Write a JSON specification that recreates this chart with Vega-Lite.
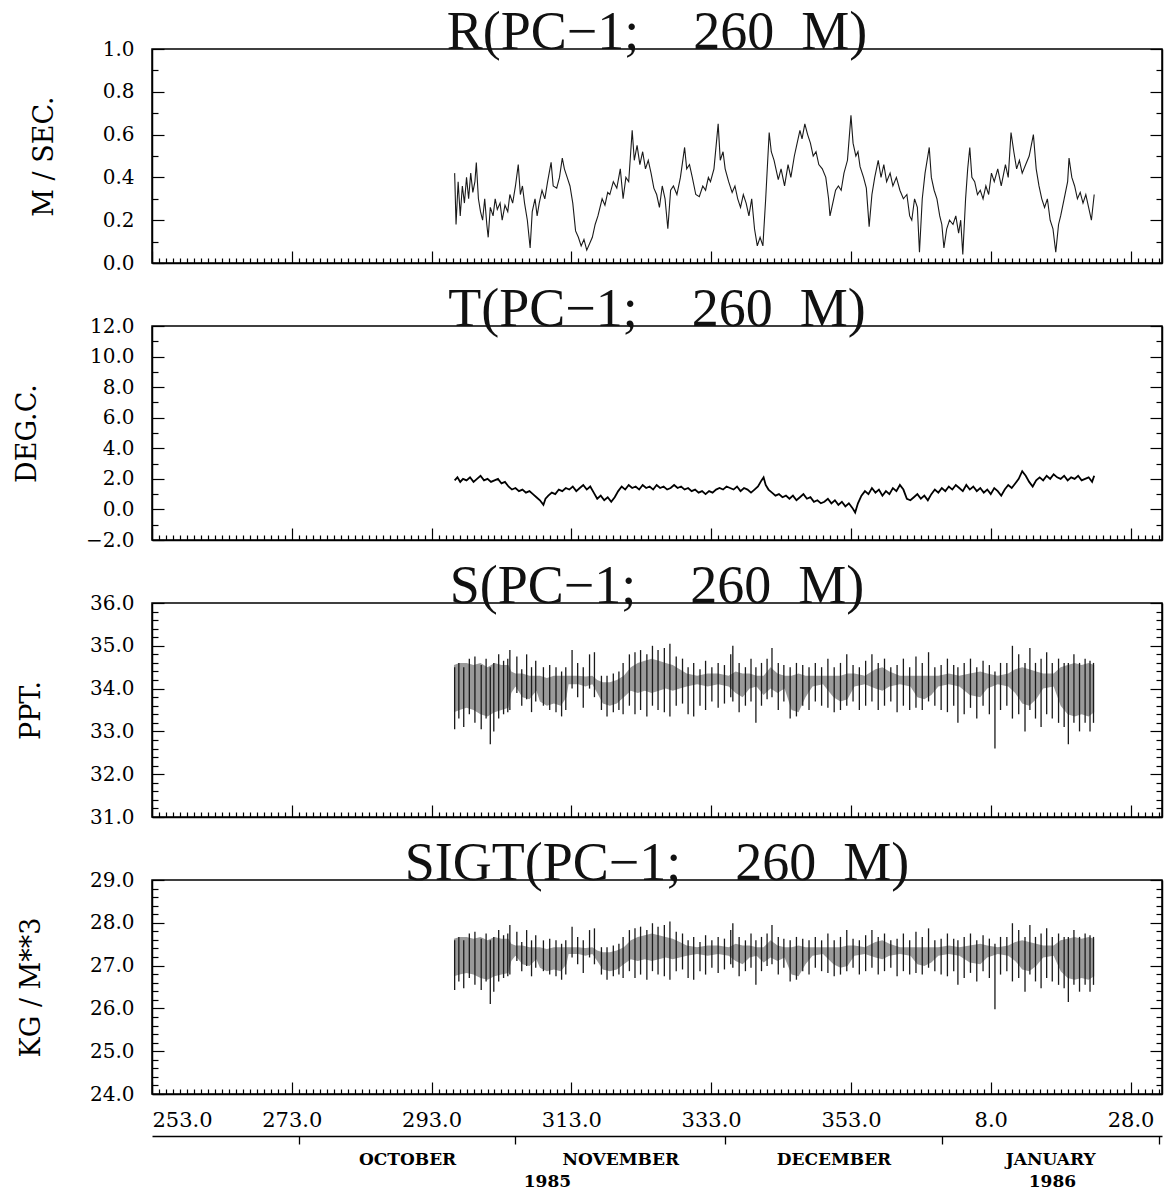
{
"$schema": "https://vega.github.io/schema/vega-lite/v6.json",
"background": "white",
"padding": {"left": 12, "top": 5, "right": 0, "bottom": 0},
"spacing": 8,
"config": {
  "view": {"stroke": "black", "strokeWidth": 1.5},
  "axis": {"grid": false, "domainColor": "black", "domainWidth": 1.5, "tickColor": "black", "tickWidth": 1.2, "labelColor": "black", "titleColor": "black", "labelFont": "DejaVu Serif", "titleFont": "DejaVu Serif", "titleFontWeight": "normal", "labelOverlap": false},
  "title": {"font": "Liberation Serif", "fontSize": 54, "fontWeight": "normal", "anchor": "middle", "frame": "group", "baseline": "alphabetic", "offset": -21, "color": "#111"}
},
"datasets": {
  "r": [
{"d":296.3,"v":0.42},{"d":296.5,"v":0.18},{"d":296.8,"v":0.38},{"d":297.1,"v":0.22},{"d":297.4,"v":0.36},{"d":297.7,"v":0.28},{"d":298.0,"v":0.40},{"d":298.3,"v":0.30},{"d":298.6,"v":0.42},{"d":298.9,"v":0.33},{"d":299.2,"v":0.38},{"d":299.4,"v":0.47},{"d":299.7,"v":0.30},{"d":300.0,"v":0.24},{"d":300.3,"v":0.20},{"d":300.6,"v":0.30},{"d":300.9,"v":0.18},{"d":301.1,"v":0.12},{"d":301.4,"v":0.26},{"d":301.8,"v":0.22},{"d":302.1,"v":0.30},{"d":302.4,"v":0.25},{"d":302.8,"v":0.28},{"d":303.1,"v":0.20},{"d":303.5,"v":0.27},{"d":303.9,"v":0.24},{"d":304.2,"v":0.32},{"d":304.6,"v":0.28},{"d":305.0,"v":0.36},{"d":305.4,"v":0.46},{"d":305.7,"v":0.32},{"d":306.0,"v":0.36},{"d":306.3,"v":0.28},{"d":306.7,"v":0.20},{"d":307.1,"v":0.07},{"d":307.4,"v":0.24},{"d":307.8,"v":0.30},{"d":308.1,"v":0.22},{"d":308.4,"v":0.28},{"d":308.8,"v":0.34},{"d":309.2,"v":0.30},{"d":309.6,"v":0.38},{"d":310.1,"v":0.47},{"d":310.4,"v":0.36},{"d":310.9,"v":0.35},{"d":311.3,"v":0.40},{"d":311.7,"v":0.49},{"d":312.0,"v":0.44},{"d":312.4,"v":0.40},{"d":312.8,"v":0.36},{"d":313.2,"v":0.28},{"d":313.6,"v":0.15},{"d":314.0,"v":0.12},{"d":314.4,"v":0.08},{"d":314.8,"v":0.11},{"d":315.2,"v":0.06},{"d":315.6,"v":0.09},{"d":316.0,"v":0.12},{"d":316.4,"v":0.18},{"d":316.8,"v":0.22},{"d":317.4,"v":0.30},{"d":317.8,"v":0.27},{"d":318.2,"v":0.33},{"d":318.5,"v":0.32},{"d":319.0,"v":0.38},{"d":319.5,"v":0.35},{"d":320.0,"v":0.44},{"d":320.4,"v":0.30},{"d":320.8,"v":0.40},{"d":321.2,"v":0.38},{"d":321.7,"v":0.62},{"d":322.0,"v":0.48},{"d":322.4,"v":0.55},{"d":322.8,"v":0.46},{"d":323.2,"v":0.52},{"d":323.6,"v":0.44},{"d":324.0,"v":0.48},{"d":324.4,"v":0.42},{"d":324.8,"v":0.35},{"d":325.2,"v":0.32},{"d":325.6,"v":0.26},{"d":326.0,"v":0.36},{"d":326.4,"v":0.30},{"d":326.8,"v":0.16},{"d":327.2,"v":0.34},{"d":327.6,"v":0.36},{"d":328.1,"v":0.32},{"d":328.6,"v":0.40},{"d":329.2,"v":0.54},{"d":329.5,"v":0.44},{"d":329.9,"v":0.46},{"d":330.3,"v":0.40},{"d":330.8,"v":0.32},{"d":331.3,"v":0.31},{"d":331.8,"v":0.36},{"d":332.2,"v":0.34},{"d":332.6,"v":0.40},{"d":332.9,"v":0.38},{"d":333.4,"v":0.44},{"d":334.0,"v":0.65},{"d":334.3,"v":0.48},{"d":334.7,"v":0.52},{"d":335.0,"v":0.44},{"d":335.5,"v":0.38},{"d":336.0,"v":0.33},{"d":336.4,"v":0.36},{"d":336.8,"v":0.30},{"d":337.2,"v":0.26},{"d":337.6,"v":0.32},{"d":338.0,"v":0.28},{"d":338.4,"v":0.22},{"d":338.8,"v":0.30},{"d":339.2,"v":0.16},{"d":339.6,"v":0.08},{"d":340.0,"v":0.12},{"d":340.4,"v":0.08},{"d":340.8,"v":0.30},{"d":341.3,"v":0.61},{"d":341.6,"v":0.52},{"d":342.0,"v":0.48},{"d":342.6,"v":0.39},{"d":343.0,"v":0.44},{"d":343.5,"v":0.36},{"d":344.0,"v":0.46},{"d":344.4,"v":0.40},{"d":344.9,"v":0.50},{"d":345.3,"v":0.56},{"d":345.7,"v":0.62},{"d":346.0,"v":0.58},{"d":346.4,"v":0.65},{"d":346.8,"v":0.60},{"d":347.2,"v":0.56},{"d":347.6,"v":0.50},{"d":348.0,"v":0.52},{"d":348.4,"v":0.46},{"d":348.9,"v":0.44},{"d":349.4,"v":0.40},{"d":349.8,"v":0.30},{"d":350.0,"v":0.22},{"d":350.4,"v":0.28},{"d":350.8,"v":0.34},{"d":351.2,"v":0.36},{"d":351.6,"v":0.34},{"d":352.0,"v":0.42},{"d":352.5,"v":0.48},{"d":353.0,"v":0.69},{"d":353.3,"v":0.56},{"d":353.7,"v":0.50},{"d":354.0,"v":0.52},{"d":354.3,"v":0.45},{"d":354.8,"v":0.40},{"d":355.2,"v":0.35},{"d":355.6,"v":0.17},{"d":356.0,"v":0.32},{"d":356.4,"v":0.40},{"d":356.9,"v":0.48},{"d":357.3,"v":0.40},{"d":357.7,"v":0.46},{"d":358.1,"v":0.38},{"d":358.6,"v":0.42},{"d":359.0,"v":0.36},{"d":359.5,"v":0.40},{"d":360.0,"v":0.34},{"d":360.5,"v":0.30},{"d":361.0,"v":0.32},{"d":361.4,"v":0.22},{"d":361.7,"v":0.20},{"d":362.1,"v":0.30},{"d":362.5,"v":0.26},{"d":362.8,"v":0.05},{"d":363.2,"v":0.30},{"d":363.6,"v":0.42},{"d":364.2,"v":0.54},{"d":364.5,"v":0.40},{"d":364.9,"v":0.34},{"d":365.3,"v":0.30},{"d":365.7,"v":0.22},{"d":366.0,"v":0.18},{"d":366.3,"v":0.07},{"d":366.7,"v":0.16},{"d":367.1,"v":0.20},{"d":367.6,"v":0.18},{"d":368.0,"v":0.22},{"d":368.4,"v":0.14},{"d":368.7,"v":0.20},{"d":369.0,"v":0.04},{"d":369.4,"v":0.30},{"d":369.7,"v":0.44},{"d":370.0,"v":0.54},{"d":370.3,"v":0.40},{"d":370.7,"v":0.38},{"d":371.1,"v":0.32},{"d":371.5,"v":0.34},{"d":371.9,"v":0.30},{"d":372.3,"v":0.36},{"d":372.7,"v":0.32},{"d":373.1,"v":0.42},{"d":373.5,"v":0.38},{"d":374.0,"v":0.44},{"d":374.5,"v":0.36},{"d":375.1,"v":0.46},{"d":375.5,"v":0.40},{"d":375.9,"v":0.61},{"d":376.3,"v":0.52},{"d":376.7,"v":0.44},{"d":377.1,"v":0.48},{"d":377.5,"v":0.42},{"d":378.0,"v":0.46},{"d":378.5,"v":0.50},{"d":379.1,"v":0.60},{"d":379.5,"v":0.44},{"d":379.9,"v":0.36},{"d":380.3,"v":0.30},{"d":380.7,"v":0.26},{"d":381.1,"v":0.30},{"d":381.5,"v":0.20},{"d":381.9,"v":0.16},{"d":382.3,"v":0.05},{"d":382.7,"v":0.18},{"d":383.0,"v":0.22},{"d":383.5,"v":0.30},{"d":384.0,"v":0.38},{"d":384.2,"v":0.49},{"d":384.6,"v":0.40},{"d":385.0,"v":0.36},{"d":385.4,"v":0.30},{"d":385.8,"v":0.33},{"d":386.2,"v":0.28},{"d":386.6,"v":0.32},{"d":387.0,"v":0.26},{"d":387.4,"v":0.20},{"d":387.8,"v":0.32}
  ],
  "t": [
{"d":296.3,"v":1.9},{"d":296.7,"v":2.1},{"d":297.1,"v":1.8},{"d":297.5,"v":2.0},{"d":298.0,"v":1.9},{"d":298.5,"v":2.1},{"d":299.0,"v":1.8},{"d":299.5,"v":2.0},{"d":300.0,"v":2.2},{"d":300.5,"v":1.9},{"d":301.0,"v":2.0},{"d":301.5,"v":1.8},{"d":302.0,"v":1.9},{"d":302.5,"v":2.0},{"d":303.0,"v":1.7},{"d":303.5,"v":1.8},{"d":304.0,"v":1.5},{"d":304.5,"v":1.3},{"d":305.0,"v":1.4},{"d":305.5,"v":1.2},{"d":306.0,"v":1.3},{"d":306.5,"v":1.1},{"d":307.0,"v":1.2},{"d":307.5,"v":1.0},{"d":308.0,"v":0.8},{"d":308.5,"v":0.6},{"d":309.0,"v":0.3},{"d":309.3,"v":0.7},{"d":309.7,"v":0.9},{"d":310.2,"v":1.1},{"d":310.7,"v":1.0},{"d":311.2,"v":1.3},{"d":311.7,"v":1.2},{"d":312.2,"v":1.4},{"d":312.7,"v":1.3},{"d":313.2,"v":1.5},{"d":313.7,"v":1.2},{"d":314.2,"v":1.4},{"d":314.7,"v":1.6},{"d":315.2,"v":1.3},{"d":315.7,"v":1.5},{"d":316.2,"v":1.1},{"d":316.7,"v":0.7},{"d":317.2,"v":0.9},{"d":317.7,"v":0.6},{"d":318.2,"v":0.8},{"d":318.7,"v":0.5},{"d":319.2,"v":0.8},{"d":319.7,"v":1.2},{"d":320.2,"v":1.5},{"d":320.7,"v":1.3},{"d":321.2,"v":1.6},{"d":321.7,"v":1.4},{"d":322.2,"v":1.5},{"d":322.7,"v":1.3},{"d":323.2,"v":1.6},{"d":323.7,"v":1.4},{"d":324.2,"v":1.5},{"d":324.7,"v":1.3},{"d":325.2,"v":1.6},{"d":325.7,"v":1.4},{"d":326.2,"v":1.5},{"d":326.7,"v":1.3},{"d":327.2,"v":1.4},{"d":327.7,"v":1.6},{"d":328.2,"v":1.4},{"d":328.7,"v":1.5},{"d":329.2,"v":1.3},{"d":329.7,"v":1.4},{"d":330.2,"v":1.2},{"d":330.7,"v":1.3},{"d":331.2,"v":1.1},{"d":331.7,"v":1.2},{"d":332.2,"v":1.0},{"d":332.7,"v":1.2},{"d":333.2,"v":1.1},{"d":333.7,"v":1.3},{"d":334.2,"v":1.4},{"d":334.7,"v":1.3},{"d":335.2,"v":1.5},{"d":335.7,"v":1.4},{"d":336.2,"v":1.3},{"d":336.7,"v":1.5},{"d":337.2,"v":1.2},{"d":337.7,"v":1.4},{"d":338.2,"v":1.3},{"d":338.7,"v":1.1},{"d":339.2,"v":1.3},{"d":339.7,"v":1.5},{"d":340.2,"v":1.9},{"d":340.5,"v":2.1},{"d":340.8,"v":1.6},{"d":341.2,"v":1.3},{"d":341.7,"v":1.1},{"d":342.2,"v":0.9},{"d":342.7,"v":1.0},{"d":343.2,"v":0.8},{"d":343.7,"v":0.9},{"d":344.2,"v":0.7},{"d":344.7,"v":0.9},{"d":345.2,"v":0.6},{"d":345.7,"v":0.8},{"d":346.2,"v":1.0},{"d":346.7,"v":0.7},{"d":347.2,"v":0.8},{"d":347.7,"v":0.5},{"d":348.2,"v":0.6},{"d":348.7,"v":0.4},{"d":349.2,"v":0.5},{"d":349.7,"v":0.7},{"d":350.2,"v":0.4},{"d":350.7,"v":0.6},{"d":351.2,"v":0.3},{"d":351.7,"v":0.5},{"d":352.2,"v":0.2},{"d":352.7,"v":0.4},{"d":353.2,"v":0.1},{"d":353.6,"v":-0.2},{"d":354.0,"v":0.4},{"d":354.5,"v":0.9},{"d":355.0,"v":1.2},{"d":355.5,"v":1.0},{"d":356.0,"v":1.4},{"d":356.5,"v":1.1},{"d":357.0,"v":1.3},{"d":357.5,"v":0.9},{"d":358.0,"v":1.2},{"d":358.5,"v":1.0},{"d":359.0,"v":1.4},{"d":359.5,"v":1.2},{"d":360.0,"v":1.6},{"d":360.5,"v":1.3},{"d":361.0,"v":0.7},{"d":361.5,"v":0.6},{"d":362.0,"v":0.8},{"d":362.5,"v":1.0},{"d":363.0,"v":0.7},{"d":363.5,"v":0.9},{"d":364.0,"v":0.6},{"d":364.5,"v":1.0},{"d":365.0,"v":1.3},{"d":365.5,"v":1.1},{"d":366.0,"v":1.4},{"d":366.5,"v":1.2},{"d":367.0,"v":1.5},{"d":367.5,"v":1.3},{"d":368.0,"v":1.6},{"d":368.5,"v":1.4},{"d":369.0,"v":1.2},{"d":369.5,"v":1.6},{"d":370.0,"v":1.3},{"d":370.5,"v":1.5},{"d":371.0,"v":1.2},{"d":371.5,"v":1.4},{"d":372.0,"v":1.1},{"d":372.5,"v":1.3},{"d":373.0,"v":1.0},{"d":373.5,"v":1.4},{"d":374.0,"v":1.2},{"d":374.5,"v":0.9},{"d":375.0,"v":1.3},{"d":375.5,"v":1.6},{"d":376.0,"v":1.4},{"d":376.5,"v":1.7},{"d":377.0,"v":2.0},{"d":377.5,"v":2.5},{"d":378.0,"v":2.2},{"d":378.5,"v":1.8},{"d":379.0,"v":1.5},{"d":379.5,"v":1.9},{"d":380.0,"v":2.1},{"d":380.5,"v":1.9},{"d":381.0,"v":2.2},{"d":381.5,"v":2.0},{"d":382.0,"v":2.3},{"d":382.5,"v":2.1},{"d":383.0,"v":2.0},{"d":383.5,"v":2.2},{"d":384.0,"v":1.9},{"d":384.5,"v":2.1},{"d":385.0,"v":2.0},{"d":385.5,"v":2.2},{"d":386.0,"v":1.9},{"d":386.5,"v":2.0},{"d":387.0,"v":2.1},{"d":387.5,"v":1.8},{"d":387.8,"v":2.2}
  ],
  "sb": [
{"d":296.2,"lo":33.45,"hi":34.55},{"d":297,"lo":33.5,"hi":34.6},{"d":298,"lo":33.55,"hi":34.6},{"d":299,"lo":33.5,"hi":34.55},{"d":300,"lo":33.4,"hi":34.6},{"d":301,"lo":33.35,"hi":34.5},{"d":302,"lo":33.45,"hi":34.6},{"d":303,"lo":33.5,"hi":34.55},{"d":304,"lo":33.55,"hi":34.55},{"d":304.4,"lo":33.9,"hi":34.4},{"d":305,"lo":34.05,"hi":34.35},{"d":306,"lo":33.8,"hi":34.35},{"d":307,"lo":33.75,"hi":34.3},{"d":308,"lo":33.95,"hi":34.3},{"d":308.5,"lo":33.7,"hi":34.3},{"d":309.5,"lo":33.6,"hi":34.25},{"d":310.5,"lo":33.65,"hi":34.3},{"d":311.5,"lo":33.6,"hi":34.3},{"d":312.3,"lo":33.8,"hi":34.3},{"d":312.6,"lo":34.1,"hi":34.3},{"d":314,"lo":34.1,"hi":34.3},{"d":315,"lo":34.05,"hi":34.28},{"d":316,"lo":34.1,"hi":34.3},{"d":316.7,"lo":33.9,"hi":34.2},{"d":317.5,"lo":33.65,"hi":34.15},{"d":318.5,"lo":33.6,"hi":34.15},{"d":319.5,"lo":33.65,"hi":34.2},{"d":320.5,"lo":33.8,"hi":34.3},{"d":321.5,"lo":33.95,"hi":34.5},{"d":322.5,"lo":33.9,"hi":34.6},{"d":323.5,"lo":33.95,"hi":34.65},{"d":324.5,"lo":33.9,"hi":34.7},{"d":325.5,"lo":33.95,"hi":34.65},{"d":326.5,"lo":34.0,"hi":34.6},{"d":327.5,"lo":33.95,"hi":34.55},{"d":328.5,"lo":34.0,"hi":34.45},{"d":329.5,"lo":34.05,"hi":34.35},{"d":331,"lo":34.1,"hi":34.3},{"d":332.5,"lo":34.05,"hi":34.35},{"d":334,"lo":34.1,"hi":34.35},{"d":335.5,"lo":34.05,"hi":34.3},{"d":336.5,"lo":33.9,"hi":34.4},{"d":337.5,"lo":33.8,"hi":34.35},{"d":338.5,"lo":34.0,"hi":34.35},{"d":339.5,"lo":34.05,"hi":34.3},{"d":340.5,"lo":33.85,"hi":34.3},{"d":341.5,"lo":34.0,"hi":34.5},{"d":342.5,"lo":33.9,"hi":34.35},{"d":343.5,"lo":34.0,"hi":34.3},{"d":344.5,"lo":33.5,"hi":34.3},{"d":345.5,"lo":33.45,"hi":34.35},{"d":346.5,"lo":33.8,"hi":34.3},{"d":347.5,"lo":34.05,"hi":34.3},{"d":349,"lo":34.1,"hi":34.3},{"d":350.5,"lo":33.8,"hi":34.3},{"d":351.5,"lo":33.7,"hi":34.3},{"d":352.5,"lo":33.75,"hi":34.35},{"d":353.5,"lo":34.05,"hi":34.35},{"d":355,"lo":34.1,"hi":34.3},{"d":356.5,"lo":34.0,"hi":34.45},{"d":357.5,"lo":33.95,"hi":34.5},{"d":358.5,"lo":34.05,"hi":34.4},{"d":360,"lo":34.1,"hi":34.3},{"d":361.5,"lo":34.05,"hi":34.3},{"d":362.5,"lo":33.8,"hi":34.3},{"d":363.5,"lo":33.75,"hi":34.3},{"d":364.5,"lo":33.85,"hi":34.3},{"d":365.5,"lo":34.05,"hi":34.3},{"d":367,"lo":34.1,"hi":34.35},{"d":368.5,"lo":34.05,"hi":34.3},{"d":370,"lo":33.85,"hi":34.35},{"d":371.5,"lo":33.8,"hi":34.4},{"d":372.5,"lo":34.0,"hi":34.35},{"d":374,"lo":34.1,"hi":34.3},{"d":375.5,"lo":34.05,"hi":34.35},{"d":376.5,"lo":33.9,"hi":34.45},{"d":377.5,"lo":33.65,"hi":34.5},{"d":378.5,"lo":33.6,"hi":34.45},{"d":379.5,"lo":33.75,"hi":34.4},{"d":380.5,"lo":34.0,"hi":34.35},{"d":382,"lo":34.05,"hi":34.35},{"d":383,"lo":33.6,"hi":34.5},{"d":384,"lo":33.4,"hi":34.55},{"d":385,"lo":33.35,"hi":34.6},{"d":386,"lo":33.4,"hi":34.55},{"d":387,"lo":33.35,"hi":34.6},{"d":387.8,"lo":33.45,"hi":34.55}
  ],
  "ss": [
{"d":296.3,"lo":33.05,"hi":34.5},{"d":296.9,"lo":33.3,"hi":34.6},{"d":297.6,"lo":33.1,"hi":34.5},{"d":298.4,"lo":33.4,"hi":34.7},{"d":299.2,"lo":33.2,"hi":34.75},{"d":300.1,"lo":33.05,"hi":34.55},{"d":300.8,"lo":33.3,"hi":34.7},{"d":301.4,"lo":32.7,"hi":34.5},{"d":301.9,"lo":33.0,"hi":34.6},{"d":302.6,"lo":33.3,"hi":34.8},{"d":303.3,"lo":33.4,"hi":34.65},{"d":303.9,"lo":33.45,"hi":34.7},{"d":304.2,"lo":33.5,"hi":34.9},{"d":305.2,"lo":33.9,"hi":34.75},{"d":305.9,"lo":33.6,"hi":34.45},{"d":306.6,"lo":33.75,"hi":34.8},{"d":307.3,"lo":33.45,"hi":34.5},{"d":307.9,"lo":33.7,"hi":34.65},{"d":309.0,"lo":33.6,"hi":34.5},{"d":309.9,"lo":33.5,"hi":34.55},{"d":310.8,"lo":33.45,"hi":34.5},{"d":311.6,"lo":33.35,"hi":34.4},{"d":312.2,"lo":33.5,"hi":34.5},{"d":313.1,"lo":34.0,"hi":34.9},{"d":313.9,"lo":33.8,"hi":34.6},{"d":314.7,"lo":33.55,"hi":34.5},{"d":315.6,"lo":34.0,"hi":34.8},{"d":316.3,"lo":33.8,"hi":34.85},{"d":317.3,"lo":33.5,"hi":34.3},{"d":318.1,"lo":33.35,"hi":34.3},{"d":319.0,"lo":33.45,"hi":34.35},{"d":319.8,"lo":33.5,"hi":34.4},{"d":320.4,"lo":33.4,"hi":34.6},{"d":321.3,"lo":33.6,"hi":34.8},{"d":322.1,"lo":33.4,"hi":34.85},{"d":322.9,"lo":33.5,"hi":34.9},{"d":323.8,"lo":33.35,"hi":34.8},{"d":324.6,"lo":33.6,"hi":35.0},{"d":325.4,"lo":33.5,"hi":34.9},{"d":326.3,"lo":33.45,"hi":34.95},{"d":327.1,"lo":33.35,"hi":35.05},{"d":328.0,"lo":33.6,"hi":34.75},{"d":328.9,"lo":33.65,"hi":34.7},{"d":329.7,"lo":33.4,"hi":34.5},{"d":330.5,"lo":33.35,"hi":34.6},{"d":331.4,"lo":33.6,"hi":34.45},{"d":332.2,"lo":33.5,"hi":34.65},{"d":333.1,"lo":33.7,"hi":34.5},{"d":334.0,"lo":33.55,"hi":34.6},{"d":334.9,"lo":33.65,"hi":34.55},{"d":335.8,"lo":33.8,"hi":34.8},{"d":336.1,"lo":33.7,"hi":35.0},{"d":337.0,"lo":33.45,"hi":34.6},{"d":337.9,"lo":33.6,"hi":34.5},{"d":338.7,"lo":33.7,"hi":34.7},{"d":339.4,"lo":33.2,"hi":34.5},{"d":340.2,"lo":33.6,"hi":34.6},{"d":341.0,"lo":33.75,"hi":34.7},{"d":341.7,"lo":33.8,"hi":34.95},{"d":342.6,"lo":33.5,"hi":34.6},{"d":343.4,"lo":33.7,"hi":34.55},{"d":344.3,"lo":33.3,"hi":34.5},{"d":345.2,"lo":33.35,"hi":34.6},{"d":346.1,"lo":33.6,"hi":34.55},{"d":347.0,"lo":33.5,"hi":34.5},{"d":347.9,"lo":33.7,"hi":34.6},{"d":348.8,"lo":33.6,"hi":34.5},{"d":349.7,"lo":33.55,"hi":34.7},{"d":350.6,"lo":33.45,"hi":34.5},{"d":351.5,"lo":33.5,"hi":34.6},{"d":352.4,"lo":33.6,"hi":34.8},{"d":353.3,"lo":33.7,"hi":34.55},{"d":354.2,"lo":33.5,"hi":34.5},{"d":355.1,"lo":33.6,"hi":34.65},{"d":356.0,"lo":33.7,"hi":34.8},{"d":356.9,"lo":33.5,"hi":34.6},{"d":357.8,"lo":33.6,"hi":34.7},{"d":358.7,"lo":33.7,"hi":34.5},{"d":359.6,"lo":33.45,"hi":34.55},{"d":360.5,"lo":33.6,"hi":34.7},{"d":361.4,"lo":33.5,"hi":34.5},{"d":362.3,"lo":33.55,"hi":34.75},{"d":363.2,"lo":33.5,"hi":34.6},{"d":364.1,"lo":33.7,"hi":34.85},{"d":365.0,"lo":33.6,"hi":34.5},{"d":365.9,"lo":33.5,"hi":34.55},{"d":366.8,"lo":33.45,"hi":34.7},{"d":367.7,"lo":33.6,"hi":34.55},{"d":368.3,"lo":33.2,"hi":34.5},{"d":369.2,"lo":33.4,"hi":34.6},{"d":370.1,"lo":33.55,"hi":34.7},{"d":371.0,"lo":33.3,"hi":34.5},{"d":371.9,"lo":33.6,"hi":34.65},{"d":372.8,"lo":33.4,"hi":34.55},{"d":373.6,"lo":32.6,"hi":34.4},{"d":374.4,"lo":33.5,"hi":34.6},{"d":375.3,"lo":33.6,"hi":34.6},{"d":376.1,"lo":33.3,"hi":35.0},{"d":377.0,"lo":33.4,"hi":34.8},{"d":377.9,"lo":33.0,"hi":34.6},{"d":378.6,"lo":33.5,"hi":34.95},{"d":379.4,"lo":33.3,"hi":34.6},{"d":380.2,"lo":33.1,"hi":34.7},{"d":381.0,"lo":33.4,"hi":34.85},{"d":381.8,"lo":33.3,"hi":34.6},{"d":382.7,"lo":33.2,"hi":34.7},{"d":383.5,"lo":33.1,"hi":34.6},{"d":384.1,"lo":32.7,"hi":34.6},{"d":384.9,"lo":33.2,"hi":34.8},{"d":385.7,"lo":33.0,"hi":34.6},{"d":386.5,"lo":33.2,"hi":34.7},{"d":387.2,"lo":33.0,"hi":34.65},{"d":387.7,"lo":33.2,"hi":34.6}
  ],
  "gb": [
{"d":296.2,"lo":26.75,"hi":27.63},{"d":297,"lo":26.79,"hi":27.67},{"d":298,"lo":26.83,"hi":27.67},{"d":299,"lo":26.79,"hi":27.63},{"d":300,"lo":26.71,"hi":27.67},{"d":301,"lo":26.67,"hi":27.59},{"d":302,"lo":26.75,"hi":27.67},{"d":303,"lo":26.79,"hi":27.63},{"d":304,"lo":26.83,"hi":27.63},{"d":304.4,"lo":27.11,"hi":27.51},{"d":305,"lo":27.23,"hi":27.47},{"d":306,"lo":27.03,"hi":27.47},{"d":307,"lo":26.99,"hi":27.43},{"d":308,"lo":27.15,"hi":27.43},{"d":308.5,"lo":26.95,"hi":27.43},{"d":309.5,"lo":26.87,"hi":27.39},{"d":310.5,"lo":26.91,"hi":27.43},{"d":311.5,"lo":26.87,"hi":27.43},{"d":312.3,"lo":27.03,"hi":27.43},{"d":312.6,"lo":27.27,"hi":27.43},{"d":314,"lo":27.27,"hi":27.43},{"d":315,"lo":27.23,"hi":27.41},{"d":316,"lo":27.27,"hi":27.43},{"d":316.7,"lo":27.11,"hi":27.35},{"d":317.5,"lo":26.91,"hi":27.31},{"d":318.5,"lo":26.87,"hi":27.31},{"d":319.5,"lo":26.91,"hi":27.35},{"d":320.5,"lo":27.03,"hi":27.43},{"d":321.5,"lo":27.15,"hi":27.59},{"d":322.5,"lo":27.11,"hi":27.67},{"d":323.5,"lo":27.15,"hi":27.71},{"d":324.5,"lo":27.11,"hi":27.75},{"d":325.5,"lo":27.15,"hi":27.71},{"d":326.5,"lo":27.19,"hi":27.67},{"d":327.5,"lo":27.15,"hi":27.63},{"d":328.5,"lo":27.19,"hi":27.55},{"d":329.5,"lo":27.23,"hi":27.47},{"d":331,"lo":27.27,"hi":27.43},{"d":332.5,"lo":27.23,"hi":27.47},{"d":334,"lo":27.27,"hi":27.47},{"d":335.5,"lo":27.23,"hi":27.43},{"d":336.5,"lo":27.11,"hi":27.51},{"d":337.5,"lo":27.03,"hi":27.47},{"d":338.5,"lo":27.19,"hi":27.47},{"d":339.5,"lo":27.23,"hi":27.43},{"d":340.5,"lo":27.07,"hi":27.43},{"d":341.5,"lo":27.19,"hi":27.59},{"d":342.5,"lo":27.11,"hi":27.47},{"d":343.5,"lo":27.19,"hi":27.43},{"d":344.5,"lo":26.79,"hi":27.43},{"d":345.5,"lo":26.75,"hi":27.47},{"d":346.5,"lo":27.03,"hi":27.43},{"d":347.5,"lo":27.23,"hi":27.43},{"d":349,"lo":27.27,"hi":27.43},{"d":350.5,"lo":27.03,"hi":27.43},{"d":351.5,"lo":26.95,"hi":27.43},{"d":352.5,"lo":26.99,"hi":27.47},{"d":353.5,"lo":27.23,"hi":27.47},{"d":355,"lo":27.27,"hi":27.43},{"d":356.5,"lo":27.19,"hi":27.55},{"d":357.5,"lo":27.15,"hi":27.59},{"d":358.5,"lo":27.23,"hi":27.51},{"d":360,"lo":27.27,"hi":27.43},{"d":361.5,"lo":27.23,"hi":27.43},{"d":362.5,"lo":27.03,"hi":27.43},{"d":363.5,"lo":26.99,"hi":27.43},{"d":364.5,"lo":27.07,"hi":27.43},{"d":365.5,"lo":27.23,"hi":27.43},{"d":367,"lo":27.27,"hi":27.47},{"d":368.5,"lo":27.23,"hi":27.43},{"d":370,"lo":27.07,"hi":27.47},{"d":371.5,"lo":27.03,"hi":27.51},{"d":372.5,"lo":27.19,"hi":27.47},{"d":374,"lo":27.27,"hi":27.43},{"d":375.5,"lo":27.23,"hi":27.47},{"d":376.5,"lo":27.11,"hi":27.55},{"d":377.5,"lo":26.91,"hi":27.59},{"d":378.5,"lo":26.87,"hi":27.55},{"d":379.5,"lo":26.99,"hi":27.51},{"d":380.5,"lo":27.19,"hi":27.47},{"d":382,"lo":27.23,"hi":27.47},{"d":383,"lo":26.87,"hi":27.59},{"d":384,"lo":26.71,"hi":27.63},{"d":385,"lo":26.67,"hi":27.67},{"d":386,"lo":26.71,"hi":27.63},{"d":387,"lo":26.67,"hi":27.67},{"d":387.8,"lo":26.75,"hi":27.63}
  ],
  "gs": [
{"d":296.3,"lo":26.43,"hi":27.59},{"d":296.9,"lo":26.63,"hi":27.67},{"d":297.6,"lo":26.47,"hi":27.59},{"d":298.4,"lo":26.71,"hi":27.75},{"d":299.2,"lo":26.55,"hi":27.79},{"d":300.1,"lo":26.43,"hi":27.63},{"d":300.8,"lo":26.63,"hi":27.75},{"d":301.4,"lo":26.1,"hi":27.59},{"d":301.9,"lo":26.39,"hi":27.67},{"d":302.6,"lo":26.63,"hi":27.83},{"d":303.3,"lo":26.71,"hi":27.71},{"d":303.9,"lo":26.75,"hi":27.75},{"d":304.2,"lo":26.79,"hi":27.95},{"d":305.2,"lo":27.11,"hi":27.79},{"d":305.9,"lo":26.87,"hi":27.55},{"d":306.6,"lo":26.99,"hi":27.83},{"d":307.3,"lo":26.75,"hi":27.59},{"d":307.9,"lo":26.95,"hi":27.71},{"d":309.0,"lo":26.87,"hi":27.59},{"d":309.9,"lo":26.79,"hi":27.63},{"d":310.8,"lo":26.75,"hi":27.59},{"d":311.6,"lo":26.67,"hi":27.51},{"d":312.2,"lo":26.79,"hi":27.59},{"d":313.1,"lo":27.19,"hi":27.91},{"d":313.9,"lo":27.03,"hi":27.67},{"d":314.7,"lo":26.83,"hi":27.59},{"d":315.6,"lo":27.19,"hi":27.83},{"d":316.3,"lo":27.03,"hi":27.87},{"d":317.3,"lo":26.79,"hi":27.43},{"d":318.1,"lo":26.67,"hi":27.43},{"d":319.0,"lo":26.75,"hi":27.47},{"d":319.8,"lo":26.79,"hi":27.51},{"d":320.4,"lo":26.71,"hi":27.67},{"d":321.3,"lo":26.87,"hi":27.83},{"d":322.1,"lo":26.71,"hi":27.87},{"d":322.9,"lo":26.79,"hi":27.91},{"d":323.8,"lo":26.67,"hi":27.83},{"d":324.6,"lo":26.87,"hi":27.99},{"d":325.4,"lo":26.79,"hi":27.91},{"d":326.3,"lo":26.75,"hi":27.95},{"d":327.1,"lo":26.67,"hi":28.03},{"d":328.0,"lo":26.87,"hi":27.79},{"d":328.9,"lo":26.91,"hi":27.75},{"d":329.7,"lo":26.71,"hi":27.59},{"d":330.5,"lo":26.67,"hi":27.67},{"d":331.4,"lo":26.87,"hi":27.55},{"d":332.2,"lo":26.79,"hi":27.71},{"d":333.1,"lo":26.95,"hi":27.59},{"d":334.0,"lo":26.83,"hi":27.67},{"d":334.9,"lo":26.91,"hi":27.63},{"d":335.8,"lo":27.03,"hi":27.83},{"d":336.1,"lo":26.95,"hi":27.99},{"d":337.0,"lo":26.75,"hi":27.67},{"d":337.9,"lo":26.87,"hi":27.59},{"d":338.7,"lo":26.95,"hi":27.75},{"d":339.4,"lo":26.55,"hi":27.59},{"d":340.2,"lo":26.87,"hi":27.67},{"d":341.0,"lo":26.99,"hi":27.75},{"d":341.7,"lo":27.03,"hi":27.95},{"d":342.6,"lo":26.79,"hi":27.67},{"d":343.4,"lo":26.95,"hi":27.63},{"d":344.3,"lo":26.63,"hi":27.59},{"d":345.2,"lo":26.67,"hi":27.67},{"d":346.1,"lo":26.87,"hi":27.63},{"d":347.0,"lo":26.79,"hi":27.59},{"d":347.9,"lo":26.95,"hi":27.67},{"d":348.8,"lo":26.87,"hi":27.59},{"d":349.7,"lo":26.83,"hi":27.75},{"d":350.6,"lo":26.75,"hi":27.59},{"d":351.5,"lo":26.79,"hi":27.67},{"d":352.4,"lo":26.87,"hi":27.83},{"d":353.3,"lo":26.95,"hi":27.63},{"d":354.2,"lo":26.79,"hi":27.59},{"d":355.1,"lo":26.87,"hi":27.71},{"d":356.0,"lo":26.95,"hi":27.83},{"d":356.9,"lo":26.79,"hi":27.67},{"d":357.8,"lo":26.87,"hi":27.75},{"d":358.7,"lo":26.95,"hi":27.59},{"d":359.6,"lo":26.75,"hi":27.63},{"d":360.5,"lo":26.87,"hi":27.75},{"d":361.4,"lo":26.79,"hi":27.59},{"d":362.3,"lo":26.83,"hi":27.79},{"d":363.2,"lo":26.79,"hi":27.67},{"d":364.1,"lo":26.95,"hi":27.87},{"d":365.0,"lo":26.87,"hi":27.59},{"d":365.9,"lo":26.79,"hi":27.63},{"d":366.8,"lo":26.75,"hi":27.75},{"d":367.7,"lo":26.87,"hi":27.63},{"d":368.3,"lo":26.55,"hi":27.59},{"d":369.2,"lo":26.71,"hi":27.67},{"d":370.1,"lo":26.83,"hi":27.75},{"d":371.0,"lo":26.63,"hi":27.59},{"d":371.9,"lo":26.87,"hi":27.71},{"d":372.8,"lo":26.71,"hi":27.63},{"d":373.6,"lo":25.98,"hi":27.51},{"d":374.4,"lo":26.79,"hi":27.67},{"d":375.3,"lo":26.87,"hi":27.67},{"d":376.1,"lo":26.63,"hi":27.99},{"d":377.0,"lo":26.71,"hi":27.83},{"d":377.9,"lo":26.39,"hi":27.67},{"d":378.6,"lo":26.79,"hi":27.95},{"d":379.4,"lo":26.63,"hi":27.67},{"d":380.2,"lo":26.47,"hi":27.75},{"d":381.0,"lo":26.71,"hi":27.87},{"d":381.8,"lo":26.63,"hi":27.67},{"d":382.7,"lo":26.55,"hi":27.75},{"d":383.5,"lo":26.47,"hi":27.67},{"d":384.1,"lo":26.15,"hi":27.67},{"d":384.9,"lo":26.55,"hi":27.83},{"d":385.7,"lo":26.39,"hi":27.67},{"d":386.5,"lo":26.55,"hi":27.75},{"d":387.2,"lo":26.39,"hi":27.71},{"d":387.7,"lo":26.55,"hi":27.67}
  ],
  "m": [{"d": 274}, {"d": 397}]
},
"vconcat": [
  {
    "title": {"text": "R(PC\u22121;\u00a0\u00a0\u00a0\u00a0260\u00a0\u00a0M)"},
    "width": 1010, "height": 214,
    "data": {"name": "r"},
    "encoding": {
      "x": {"field": "d", "type": "quantitative", "scale": {"domain": [253, 397.5], "nice": false, "zero": false},
        "axis": {"title": null, "labels": false, "values": [253,254,255,256,257,258,259,260,261,262,263,264,265,266,267,268,269,270,271,272,273,274,275,276,277,278,279,280,281,282,283,284,285,286,287,288,289,290,291,292,293,294,295,296,297,298,299,300,301,302,303,304,305,306,307,308,309,310,311,312,313,314,315,316,317,318,319,320,321,322,323,324,325,326,327,328,329,330,331,332,333,334,335,336,337,338,339,340,341,342,343,344,345,346,347,348,349,350,351,352,353,354,355,356,357,358,359,360,361,362,363,364,365,366,367,368,369,370,371,372,373,374,375,376,377,378,379,380,381,382,383,384,385,386,387,388,389,390,391,392,393,394,395,396,397],
          "tickSize": {"condition": {"test": "(datum.value-253)%20==0", "value": -12}, "value": -5}}}
    },
    "layer": [
      {"mark": {"type": "line", "color": "#1a1a1a", "strokeWidth": 1.1},
       "encoding": {"y": {"field": "v", "type": "quantitative", "scale": {"domain": [0, 1], "nice": false},
         "axis": {"orient": "left", "title": "M / SEC.", "titleFontSize": 27, "titlePadding": 44, "labelFontSize": 20, "labelPadding": 30, "labelFlush": false,
           "values": [0,0.1,0.2,0.3,0.4,0.5,0.6,0.7,0.8,0.9,1.0],
           "labelExpr": "round(datum.value*10)%2==0 ? format(datum.value,'.1f') : ''",
           "tickSize": {"condition": {"test": "round(datum.value*10)%2==0", "value": -12}, "value": -6}}}}},
      {"mark": {"type": "line", "opacity": 0},
       "encoding": {"y": {"field": "v", "type": "quantitative", "scale": {"domain": [0, 1], "nice": false},
         "axis": {"orient": "right", "title": null, "labels": false,
           "values": [0,0.1,0.2,0.3,0.4,0.5,0.6,0.7,0.8,0.9,1.0],
           "tickSize": {"condition": {"test": "round(datum.value*10)%2==0", "value": -12}, "value": -6}}}}}
    ],
    "resolve": {"axis": {"y": "independent"}}
  },
  {
    "title": {"text": "T(PC\u22121;\u00a0\u00a0\u00a0\u00a0260\u00a0\u00a0M)"},
    "width": 1010, "height": 214,
    "data": {"name": "t"},
    "encoding": {
      "x": {"field": "d", "type": "quantitative", "scale": {"domain": [253, 397.5], "nice": false, "zero": false},
        "axis": {"title": null, "labels": false, "values": [253,254,255,256,257,258,259,260,261,262,263,264,265,266,267,268,269,270,271,272,273,274,275,276,277,278,279,280,281,282,283,284,285,286,287,288,289,290,291,292,293,294,295,296,297,298,299,300,301,302,303,304,305,306,307,308,309,310,311,312,313,314,315,316,317,318,319,320,321,322,323,324,325,326,327,328,329,330,331,332,333,334,335,336,337,338,339,340,341,342,343,344,345,346,347,348,349,350,351,352,353,354,355,356,357,358,359,360,361,362,363,364,365,366,367,368,369,370,371,372,373,374,375,376,377,378,379,380,381,382,383,384,385,386,387,388,389,390,391,392,393,394,395,396,397],
          "tickSize": {"condition": {"test": "(datum.value-253)%20==0", "value": -12}, "value": -5}}}
    },
    "layer": [
      {"mark": {"type": "line", "color": "black", "strokeWidth": 1.8},
       "encoding": {"y": {"field": "v", "type": "quantitative", "scale": {"domain": [-2, 12], "nice": false, "zero": false},
         "axis": {"orient": "left", "title": "DEG.C.", "titleFontSize": 27, "titlePadding": 44, "labelFontSize": 20, "labelPadding": 30, "labelFlush": false,
           "values": [-2,-1,0,1,2,3,4,5,6,7,8,9,10,11,12],
           "labelExpr": "abs(datum.value)%2==0 ? format(datum.value,'.1f') : ''",
           "tickSize": {"condition": {"test": "abs(datum.value)%2==0", "value": -12}, "value": -6}}}}},
      {"mark": {"type": "line", "opacity": 0},
       "encoding": {"y": {"field": "v", "type": "quantitative", "scale": {"domain": [-2, 12], "nice": false, "zero": false},
         "axis": {"orient": "right", "title": null, "labels": false,
           "values": [-2,-1,0,1,2,3,4,5,6,7,8,9,10,11,12],
           "tickSize": {"condition": {"test": "abs(datum.value)%2==0", "value": -12}, "value": -6}}}}}
    ],
    "resolve": {"axis": {"y": "independent"}}
  },
  {
    "title": {"text": "S(PC\u22121;\u00a0\u00a0\u00a0\u00a0260\u00a0\u00a0M)"},
    "width": 1010, "height": 214,
    "encoding": {
      "x": {"field": "d", "type": "quantitative", "scale": {"domain": [253, 397.5], "nice": false, "zero": false},
        "axis": {"title": null, "labels": false, "values": [253,254,255,256,257,258,259,260,261,262,263,264,265,266,267,268,269,270,271,272,273,274,275,276,277,278,279,280,281,282,283,284,285,286,287,288,289,290,291,292,293,294,295,296,297,298,299,300,301,302,303,304,305,306,307,308,309,310,311,312,313,314,315,316,317,318,319,320,321,322,323,324,325,326,327,328,329,330,331,332,333,334,335,336,337,338,339,340,341,342,343,344,345,346,347,348,349,350,351,352,353,354,355,356,357,358,359,360,361,362,363,364,365,366,367,368,369,370,371,372,373,374,375,376,377,378,379,380,381,382,383,384,385,386,387,388,389,390,391,392,393,394,395,396,397],
          "tickSize": {"condition": {"test": "(datum.value-253)%20==0", "value": -12}, "value": -5}}}
    },
    "layer": [
      {"data": {"name": "sb"},
       "mark": {"type": "area", "color": "#9a9a9a", "opacity": 1},
       "encoding": {"y": {"field": "lo", "type": "quantitative", "scale": {"domain": [31, 36], "nice": false, "zero": false},
         "axis": {"orient": "left", "title": "PPT.", "titleFontSize": 27, "titlePadding": 44, "labelFontSize": 20, "labelPadding": 30, "labelFlush": false,
           "values": [31,31.2,31.4,31.6,31.8,32,32.2,32.4,32.6,32.8,33,33.2,33.4,33.6,33.8,34,34.2,34.4,34.6,34.8,35,35.2,35.4,35.6,35.8,36],
           "labelExpr": "abs(datum.value-round(datum.value))<0.01 ? format(datum.value,'.1f') : ''",
           "tickSize": {"condition": {"test": "abs(datum.value-round(datum.value))<0.01", "value": -12}, "value": -6}}},
         "y2": {"field": "hi"}}},
      {"data": {"name": "ss"},
       "mark": {"type": "rule", "color": "#1a1a1a", "strokeWidth": 1.3},
       "encoding": {"y": {"field": "lo", "type": "quantitative", "scale": {"domain": [31, 36], "nice": false, "zero": false},
         "axis": {"orient": "right", "title": null, "labels": false,
           "values": [31,31.2,31.4,31.6,31.8,32,32.2,32.4,32.6,32.8,33,33.2,33.4,33.6,33.8,34,34.2,34.4,34.6,34.8,35,35.2,35.4,35.6,35.8,36],
           "tickSize": {"condition": {"test": "abs(datum.value-round(datum.value))<0.01", "value": -12}, "value": -6}}},
         "y2": {"field": "hi"}}}
    ],
    "resolve": {"axis": {"y": "independent"}}
  },
  {
    "title": {"text": "SIGT(PC\u22121;\u00a0\u00a0\u00a0\u00a0260\u00a0\u00a0M)"},
    "width": 1010, "height": 214,
    "layer": [
      {"data": {"name": "gb"},
       "mark": {"type": "area", "color": "#9a9a9a", "opacity": 1},
       "encoding": {
         "x": {"field": "d", "type": "quantitative", "scale": {"domain": [253, 397.5], "nice": false, "zero": false},
           "axis": {"title": null, "labels": true, "labelFontSize": 21, "labelPadding": 27, "labelFlush": true,
             "labelExpr": "(datum.value-253)%20==0 ? format(datum.value>365 ? datum.value-365 : datum.value, '.1f') : ''",
             "values": [253,254,255,256,257,258,259,260,261,262,263,264,265,266,267,268,269,270,271,272,273,274,275,276,277,278,279,280,281,282,283,284,285,286,287,288,289,290,291,292,293,294,295,296,297,298,299,300,301,302,303,304,305,306,307,308,309,310,311,312,313,314,315,316,317,318,319,320,321,322,323,324,325,326,327,328,329,330,331,332,333,334,335,336,337,338,339,340,341,342,343,344,345,346,347,348,349,350,351,352,353,354,355,356,357,358,359,360,361,362,363,364,365,366,367,368,369,370,371,372,373,374,375,376,377,378,379,380,381,382,383,384,385,386,387,388,389,390,391,392,393,394,395,396,397],
             "tickSize": {"condition": {"test": "(datum.value-253)%20==0", "value": -12}, "value": -5}}},
         "y": {"field": "lo", "type": "quantitative", "scale": {"domain": [24, 29], "nice": false, "zero": false},
         "axis": {"orient": "left", "title": "KG / M**3", "titleFontSize": 27, "titlePadding": 44, "labelFontSize": 20, "labelPadding": 30, "labelFlush": false,
           "values": [24,24.2,24.4,24.6,24.8,25,25.2,25.4,25.6,25.8,26,26.2,26.4,26.6,26.8,27,27.2,27.4,27.6,27.8,28,28.2,28.4,28.6,28.8,29],
           "labelExpr": "abs(datum.value-round(datum.value))<0.01 ? format(datum.value,'.1f') : ''",
           "tickSize": {"condition": {"test": "abs(datum.value-round(datum.value))<0.01", "value": -12}, "value": -6}}},
         "y2": {"field": "hi"}}},
      {"data": {"name": "gs"},
       "mark": {"type": "rule", "color": "#1a1a1a", "strokeWidth": 1.3},
       "encoding": {
         "x": {"field": "d", "type": "quantitative", "scale": {"domain": [253, 397.5], "nice": false, "zero": false}, "axis": null},
         "y": {"field": "lo", "type": "quantitative", "scale": {"domain": [24, 29], "nice": false, "zero": false},
         "axis": {"orient": "right", "title": null, "labels": false,
           "values": [24,24.2,24.4,24.6,24.8,25,25.2,25.4,25.6,25.8,26,26.2,26.4,26.6,26.8,27,27.2,27.4,27.6,27.8,28,28.2,28.4,28.6,28.8,29],
           "tickSize": {"condition": {"test": "abs(datum.value-round(datum.value))<0.01", "value": -12}, "value": -6}}},
         "y2": {"field": "hi"}}},
      {"data": {"name": "m"},
       "mark": {"type": "point", "opacity": 0},
       "encoding": {
         "x": {"field": "d", "type": "quantitative", "scale": {"domain": [253, 397.5], "nice": false, "zero": false},
           "axis": {"orient": "bottom", "offset": 42, "title": null, "labels": false, "values": [274, 305, 335, 366, 397], "tickSize": 8, "tickWidth": 1.3, "domainWidth": 1.5}},
         "y": {"datum": 25, "type": "quantitative", "scale": {"domain": [24, 29], "nice": false, "zero": false}, "axis": null}}},
      {"data": {"name": "m"},
       "mark": {"type": "point", "opacity": 0},
       "encoding": {
         "x": {"field": "d", "type": "quantitative", "scale": {"domain": [253, 397.5], "nice": false, "zero": false},
           "axis": {"orient": "bottom", "offset": 42, "title": null, "ticks": false, "domain": false, "labelFontSize": 17, "labelFontWeight": "bold", "labelPadding": 15, "labelFlush": false,
             "values": [289.5, 320, 350.5, 381.5],
             "labelExpr": "datum.value==289.5 ? 'OCTOBER' : datum.value==320 ? 'NOVEMBER' : datum.value==350.5 ? 'DECEMBER' : 'JANUARY'"}},
         "y": {"datum": 25, "type": "quantitative", "scale": {"domain": [24, 29], "nice": false, "zero": false}, "axis": null}}},
      {"data": {"name": "m"},
       "mark": {"type": "point", "opacity": 0},
       "encoding": {
         "x": {"field": "d", "type": "quantitative", "scale": {"domain": [253, 397.5], "nice": false, "zero": false},
           "axis": {"orient": "bottom", "offset": 42, "title": null, "ticks": false, "domain": false, "labelFontSize": 17, "labelFontWeight": "bold", "labelPadding": 37, "labelFlush": false,
             "values": [309.5, 381.75],
             "labelExpr": "datum.value==309.5 ? '1985' : '1986'"}},
         "y": {"datum": 25, "type": "quantitative", "scale": {"domain": [24, 29], "nice": false, "zero": false}, "axis": null}}}
    ],
    "resolve": {"axis": {"x": "independent", "y": "independent"}}
  }
]
}
